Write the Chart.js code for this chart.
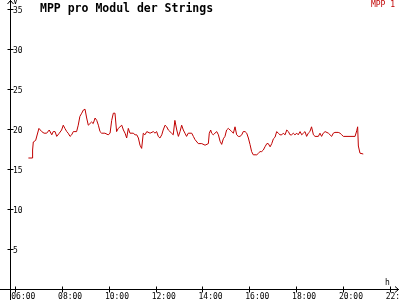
<!DOCTYPE html>
<html><head><meta charset="utf-8">
<script src="https://cdn.jsdelivr.net/npm/chart.js@4.4.0/dist/chart.umd.min.js"></script>
<style>html,body{margin:0;padding:0;background:#fff;overflow:hidden}</style>
</head><body>
<canvas id="c" width="400" height="300"></canvas>
<script>
const titleText = "MPP pro Modul der Strings";
const seriesName = "MPP 1";
const yUnit = "V";
const xUnit = "h";
const xTicks = [6, 8, 10, 12, 14, 16, 18, 20, 22];
const yTicks = [5, 10, 15, 20, 25, 30, 35];
const hours = [6.56,6.72,6.74,6.77,6.87,7.01,7.13,7.23,7.34,7.45,7.56,7.62,7.70,7.77,7.88,7.98,8.05,8.12,8.20,8.26,8.34,8.41,8.48,8.55,8.62,8.69,8.76,8.84,8.91,8.98,9.05,9.12,9.19,9.26,9.33,9.41,9.48,9.55,9.62,9.69,9.83,9.97,10.05,10.12,10.19,10.26,10.33,10.40,10.55,10.62,10.69,10.76,10.83,10.90,11.04,11.12,11.19,11.26,11.33,11.40,11.47,11.54,11.62,11.76,11.90,11.97,12.04,12.11,12.18,12.26,12.32,12.40,12.47,12.54,12.61,12.68,12.75,12.82,12.90,12.97,13.04,13.11,13.18,13.25,13.32,13.39,13.54,13.61,13.68,13.82,13.97,14.11,14.25,14.29,14.35,14.39,14.46,14.53,14.61,14.68,14.75,14.82,14.89,14.96,15.03,15.10,15.18,15.25,15.32,15.39,15.46,15.53,15.60,15.68,15.74,15.82,15.89,15.96,16.03,16.10,16.17,16.32,16.39,16.46,16.53,16.60,16.67,16.75,16.81,16.89,16.96,17.03,17.10,17.17,17.24,17.31,17.39,17.45,17.53,17.60,17.67,17.74,17.81,17.88,17.95,18.03,18.09,18.17,18.24,18.31,18.38,18.45,18.52,18.59,18.66,18.74,18.81,18.95,19.02,19.09,19.16,19.24,19.38,19.45,19.52,19.59,19.66,19.80,19.88,19.95,20.02,20.52,20.59,20.63,20.66,20.73,20.87];
const mpp = [16.5,16.5,17.5,18.5,18.7,20.2,19.8,19.6,19.6,20.0,19.4,19.8,19.8,19.2,19.6,20.0,20.6,20.2,19.8,19.6,19.2,19.4,19.8,19.8,19.8,20.6,21.7,22.1,22.5,22.6,21.5,20.6,20.8,21.0,20.8,21.5,21.2,20.6,19.8,19.6,19.6,19.4,19.6,21.2,22.1,22.1,19.8,20.2,20.6,20.0,19.6,19.0,20.2,19.6,19.6,19.4,19.4,19.0,18.1,17.7,19.6,19.4,19.8,19.6,19.8,19.6,19.8,19.2,19.0,19.4,20.0,20.6,20.4,20.0,19.8,19.6,19.4,21.2,20.0,19.2,19.8,20.6,20.0,19.6,19.2,19.6,19.6,19.2,18.8,18.3,18.3,18.1,18.3,19.6,20.0,19.6,19.4,19.6,19.8,19.4,18.6,18.2,18.9,19.2,20.0,20.2,20.0,19.8,19.6,20.4,19.4,19.2,19.2,19.4,19.8,19.8,19.6,19.0,18.2,17.3,16.9,16.9,17.1,17.3,17.3,17.5,17.9,18.3,18.3,17.9,18.3,18.9,19.1,19.8,19.6,19.4,19.4,19.6,19.4,20.0,19.8,19.4,19.4,19.6,19.4,19.6,19.4,19.8,19.4,19.6,19.8,19.2,19.6,19.8,20.4,19.4,19.2,19.2,19.6,19.2,19.6,19.8,19.6,19.4,19.2,19.6,19.7,19.7,19.6,19.4,19.2,19.2,19.9,20.4,18.0,17.1,17.0];

const lineColor = '#c00000';
const mono = '"DejaVu Sans Mono", "Liberation Mono", monospace';

const axesPlugin = {
  id: 'axesPlugin',
  afterDraw(chart) {
    const ctx = chart.ctx;
    const xs = chart.scales.x, ys = chart.scales.y;
    const x0 = Math.round(xs.getPixelForValue(xs.min)) + 0.5;
    const y0 = Math.round(ys.getPixelForValue(0)) - 0.5;
    ctx.save();
    ctx.strokeStyle = '#000';
    ctx.lineWidth = 1;
    ctx.beginPath();
    ctx.moveTo(x0, 300); ctx.lineTo(x0, 0);
    ctx.moveTo(x0 - 3, 4); ctx.lineTo(x0, 0.5); ctx.lineTo(x0 + 3, 4);
    ctx.moveTo(0, y0); ctx.lineTo(399, y0);
    ctx.moveTo(395, y0 - 3); ctx.lineTo(398.5, y0); ctx.lineTo(395, y0 + 3);
    xTicks.forEach(v => {
      const px = Math.round(xs.getPixelForValue(v)) + 0.5;
      ctx.moveTo(px, y0 - 3); ctx.lineTo(px, y0 + 3);
    });
    yTicks.forEach(v => {
      const py = Math.round(ys.getPixelForValue(v)) - 0.5;
      ctx.moveTo(x0 - 3, py); ctx.lineTo(x0 + 3, py);
    });
    ctx.stroke();
    ctx.fillStyle = '#000';
    ctx.textBaseline = 'alphabetic';
    ctx.textAlign = 'left';
    ctx.font = 'bold 11.5px ' + mono;
    ctx.fillText(titleText, 40, 12);
    ctx.font = '8px ' + mono;
    ctx.fillText(yUnit, 13, 4);
    ctx.fillText(xUnit, 385, 285);
    ctx.fillStyle = lineColor;
    ctx.textAlign = 'right';
    ctx.fillText(seriesName, 395, 7);
    ctx.restore();
  }
};

new Chart(document.getElementById('c'), {
  type: 'line',
  data: {
    datasets: [{
      label: seriesName,
      data: hours.map((h, i) => ({x: h, y: mpp[i]})),
      borderColor: lineColor,
      borderWidth: 1,
      pointRadius: 0,
      tension: 0,
      fill: false
    }]
  },
  options: {
    responsive: false,
    animation: false,
    devicePixelRatio: 1,
    layout: {padding: 0},
    plugins: {legend: {display: false}, title: {display: false}, tooltip: {enabled: false}},
    scales: {
      x: {
        type: 'linear',
        min: 5.774, max: 22.44,
        afterBuildTicks: s => { s.ticks = xTicks.map(v => ({value: v})); },
        afterFit: s => { s.height = 10; s.paddingLeft = 0; s.paddingRight = 0; },
        grid: {display: false, drawTicks: false},
        border: {display: false},
        ticks: {
          autoSkip: false, maxRotation: 0, minRotation: 0,
          align: 'start', labelOffset: -4, padding: 2,
          color: '#000',
          font: {family: mono, size: 8},
          callback: v => String(v).padStart(2, '0') + ':00'
        }
      },
      y: {
        min: 0, max: 36.25,
        afterBuildTicks: s => { s.ticks = yTicks.map(v => ({value: v})); },
        afterFit: s => { s.width = 10; s.paddingTop = 0; s.paddingBottom = 0; },
        grid: {display: false, drawTicks: false},
        border: {display: false},
        ticks: {
          mirror: true, padding: 3, labelOffset: 1,
          color: '#000',
          font: {family: mono, size: 8},
          callback: v => String(v)
        }
      }
    }
  },
  plugins: [axesPlugin]
});
</script>
</body></html>
